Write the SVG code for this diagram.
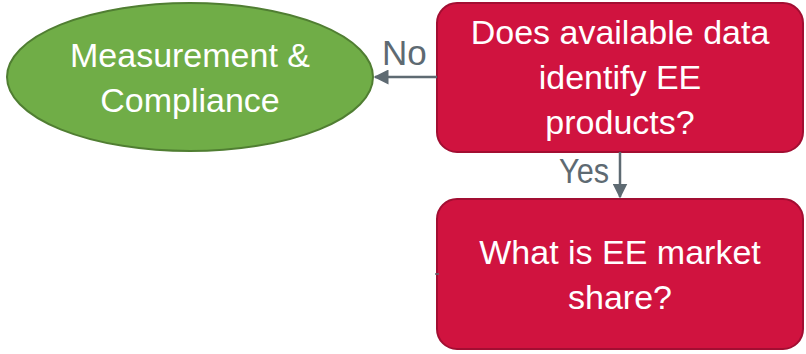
<svg xmlns="http://www.w3.org/2000/svg" width="806" height="354" viewBox="0 0 806 354">
<defs>
<style>
.node-red{fill:#D0133F;stroke:#A20E32;stroke-width:2}
.node-green{fill:#70AD47;stroke:#507E32;stroke-width:2}
.t{fill:#FFFFFF;font-family:"Liberation Sans",Arial,sans-serif;font-size:34px;text-anchor:middle}
.lbl{fill:#5E6A72;font-family:"Liberation Sans",Arial,sans-serif;font-size:35px}
.conn{stroke:#5E6A72;stroke-width:2.5;fill:none}
</style>
<marker id="ah" viewBox="0 0 10 10" refX="9" refY="5" markerWidth="6" markerHeight="6" orient="auto" markerUnits="strokeWidth">
<path d="M0,0 L10,5 L0,10 z" fill="#5E6A72"/>
</marker>
</defs>
<g id="n-measure">
<ellipse class="node-green" cx="190" cy="77" rx="183" ry="74"/>
<text class="t" x="190" y="67">Measurement &amp;</text>
<text class="t" x="190" y="112">Compliance</text>
</g>
<g id="n-identify">
<rect class="node-red" x="437" y="3" width="366" height="149" rx="20"/>
<text class="t" x="620" y="44">Does available data</text>
<text class="t" x="620" y="89">identify EE</text>
<text class="t" x="620" y="134">products?</text>
</g>
<g id="n-share">
<rect class="node-red" x="437" y="199" width="366" height="150" rx="20"/>
<text class="t" x="620" y="264">What is EE market</text>
<text class="t" x="620" y="309">share?</text>
</g>
<g id="connectors">
<line class="conn" x1="437" y1="77" x2="375" y2="77" marker-end="url(#ah)"/>
<text class="lbl" x="382" y="65">No</text>
<line class="conn" x1="620" y1="152" x2="620" y2="197" marker-end="url(#ah)"/>
<text class="lbl" x="559" y="183" textLength="50" lengthAdjust="spacingAndGlyphs">Yes</text>
<line x1="435" y1="274" x2="439" y2="274" stroke="#5E6A72" stroke-width="1.5"/>
</g>
</svg>
